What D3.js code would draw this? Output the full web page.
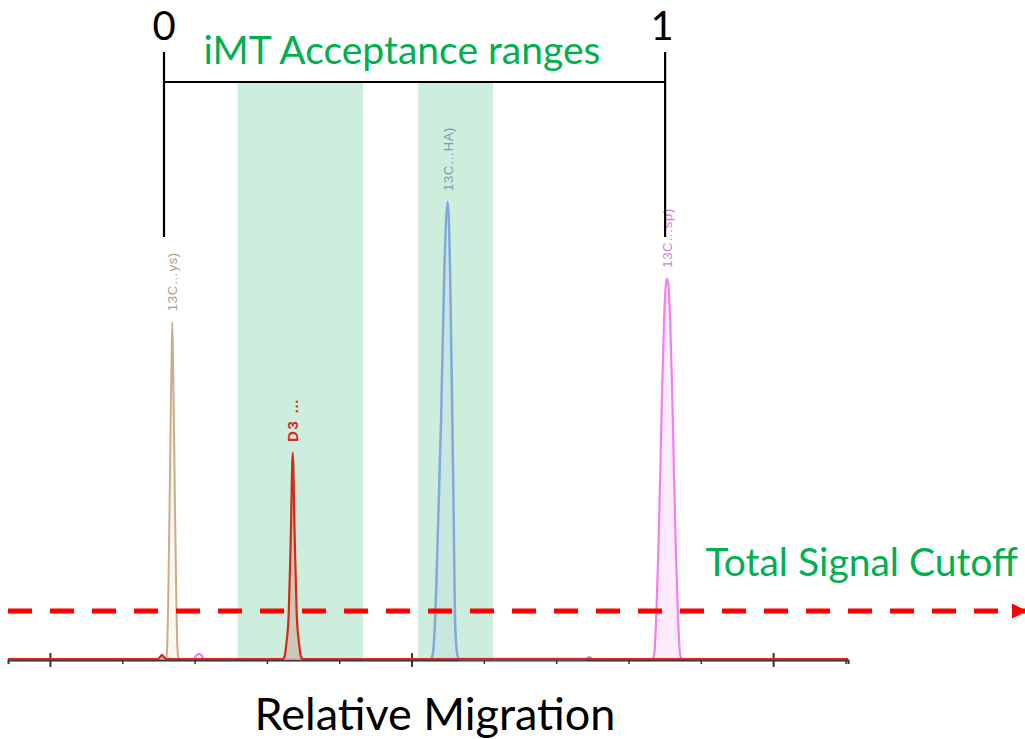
<!DOCTYPE html>
<html>
<head>
<meta charset="utf-8">
<script src="https://cdn.jsdelivr.net/npm/d3@7"></script>
<style>
  body { margin: 0; background: #fff; }
  svg { display: block; }
</style>
</head>
<body>
<div id="chart"></div>
<script>
// peak traces, x = migration time, y = signal (% of tallest peak)
const tanX  = [2.3189, 2.3217, 2.3245, 2.3267, 2.3314, 2.3355, 2.3383, 2.3411, 2.3452, 2.3499, 2.3521, 2.3549, 2.3577];
const tanY  = [0, 0.4, 3.3, 10.9, 37.2, 61.3, 73.7, 61.3, 37.2, 10.9, 3.3, 0.4, 0];

const redX  = [1.884, 2.2987, 2.3043, 2.3098, 2.3153, 2.3209,
               2.6437, 2.6493, 2.6534, 2.6603, 2.6659, 2.6714, 2.6769, 2.6825, 2.6894, 2.6935, 2.6991, 4.207];
const redY  = [0, 0, 0.4, 0.9, 0.4, 0,
               0, 0.7, 3.1, 9.8, 26.3, 45.1, 26.3, 9.8, 3.1, 0.7, 0, 0];

const blueX = [3.0531, 3.0586, 3.0650, 3.0738, 3.0816, 3.0907, 3.1001, 3.1065, 3.1128, 3.1167, 3.1203, 3.1267, 3.1319,
               3.4827, 3.491, 3.4993];
const blueY = [0, 0.9, 8.5, 30.6, 52.3, 85.1, 100, 85.1, 52.3, 30.6, 8.5, 0.9, 0,
               0, 0.4, 0];

const pinkX = [2.3984, 2.4053, 2.4122, 2.4191, 2.426,
               3.6653, 3.6708, 3.6764, 3.6819, 3.6874, 3.6930, 3.6985, 3.7027, 3.7068,
               3.7109, 3.7151, 3.7206, 3.7262, 3.7317, 3.7372, 3.7428, 3.7483];
const pinkY = [0, 0.8, 1.1, 0.8, 0,
               0, 0.9, 8.8, 21.9, 39.4, 59.1, 74.4, 81.4, 83.2,
               81.4, 74.4, 59.1, 39.4, 21.9, 8.8, 0.9, 0];

const peakNames = ["13C…ys)", "D3 …", "13C…HA)", "13C…sp)"];

// iMT acceptance windows and the 0..1 relative migration bracket
const bandStart = [2.5187, 3.0180];
const bandEnd   = [2.8658, 3.2255];
const bracketX  = [2.3154, 3.7012];
const bracketLabels = ["0", "1"];

const majorTicks = [2, 3, 4];
const minorTicks = [2.2, 2.4, 2.6, 2.8, 3.2, 3.4, 3.6, 3.8, 4.2];
const cutoff = 10.5;

const W = 1025, H = 739;
const svg = d3.select("#chart").append("svg")
  .attr("width", W).attr("height", H);

const x = d3.scaleLinear().domain([1.884, 4.207]).range([8, 848]);
const y = d3.scaleLinear().domain([0, 100]).range([659, 202]);

// acceptance bands
svg.append("g").selectAll("rect")
  .data(bandStart)
  .join("rect")
  .attr("x", d => x(d))
  .attr("width", (d, i) => x(bandEnd[i]) - x(d))
  .attr("y", 83)
  .attr("height", y(0) - 83)
  .attr("fill", "#cdeedc");

// axis: minor ticks below, major ticks crossing the line
let axMinor = svg.append("g")
  .attr("transform", "translate(0," + (y(0) + 1) + ")")
  .call(d3.axisBottom(x).tickValues(minorTicks).tickSize(4).tickFormat(""));
axMinor.select(".domain").attr("stroke", "#333").attr("stroke-width", 2);
axMinor.selectAll(".tick line").attr("stroke", "#333").attr("stroke-width", 1.5);

let axMajor = svg.append("g")
  .attr("transform", "translate(0," + (y(0) - 6) + ")")
  .call(d3.axisBottom(x).tickValues(majorTicks).tickSize(14).tickFormat("").tickSizeOuter(0));
axMajor.select(".domain").remove();
axMajor.selectAll(".tick line").attr("stroke", "#333").attr("stroke-width", 2);

// traces
const series = [
  {xs: tanX,  ys: tanY,  stroke: "#c9ad86", fill: "rgba(240,230,215,0.3)",  w: 2},
  {xs: pinkX, ys: pinkY, stroke: "#f27ef0", fill: "rgba(252,225,250,0.7)",  w: 2.2},
  {xs: blueX, ys: blueY, stroke: "#82a8dc", fill: "rgba(190,215,230,0.3)",  w: 2.5},
  {xs: redX,  ys: redY,  stroke: "#d9261c", fill: "rgba(205,175,150,0.6)",  w: 2.2}
];
const labelColors = ["#b39a74", "#d9261c", "#7f9ab5", "#d77ad8"];

const area = d3.area().x(d => x(d[0])).y0(y(0)).y1(d => y(d[1])).curve(d3.curveMonotoneX);
const line = d3.line().x(d => x(d[0])).y(d => y(d[1])).curve(d3.curveMonotoneX);

series.forEach(function(s) {
  let pts = s.xs.map((v, i) => [v, s.ys[i]]);
  svg.append("path").datum(pts).attr("d", area).attr("fill", s.fill);
  svg.append("path").datum(pts)
    .attr("d", line)
    .attr("fill", "none")
    .attr("stroke", s.stroke)
    .attr("stroke-width", s.w)
    .attr("stroke-linejoin", "round");
});

// peak labels, rotated, above each apex
const apexSeries = [series[0], series[3], series[2], series[1]];
apexSeries.forEach(function(s, i) {
  let k = d3.maxIndex(s.ys);
  let px = x(s.xs[k]), py = y(s.ys[k]) - 11;
  svg.append("text")
    .attr("transform", "translate(" + (px + 5) + "," + py + ") rotate(-90)")
    .attr("font-family", "Liberation Sans, Arial, sans-serif")
    .attr("font-size", i == 1 ? 15 : 13)
    .attr("font-weight", i == 1 ? "bold" : "normal")
    .attr("letter-spacing", i == 1 ? 1.5 : 0.7)
    .attr("fill", labelColors[i])
    .text(peakNames[i]);
});

// signal cutoff
svg.append("defs").append("marker")
  .attr("id", "arr")
  .attr("viewBox", "0 0 10 10")
  .attr("refX", 10).attr("refY", 5)
  .attr("markerWidth", 3).attr("markerHeight", 3)
  .attr("orient", "auto")
  .append("path").attr("d", "M0,0L10,5L0,10z").attr("fill", "#ff0000");

svg.append("line")
  .attr("x1", 8).attr("x2", 1027)
  .attr("y1", y(cutoff)).attr("y2", y(cutoff))
  .attr("stroke", "#ff0000")
  .attr("stroke-width", 5)
  .attr("stroke-dasharray", "24 18")
  .attr("marker-end", "url(#arr)");

svg.append("text")
  .attr("x", 1018).attr("y", 576)
  .attr("text-anchor", "end")
  .attr("font-family", "Lato, sans-serif")
  .attr("font-size", 39)
  .attr("fill", "#00b050")
  .text("Total Signal Cutoff");

// bracket for relative migration 0..1
const bracket = svg.append("g").attr("stroke", "#000").attr("stroke-width", 2.2);
bracket.append("line")
  .attr("x1", x(bracketX[0])).attr("x2", x(bracketX[1]))
  .attr("y1", 82).attr("y2", 82);
bracketX.forEach(function(v) {
  bracket.append("line")
    .attr("x1", x(v)).attr("x2", x(v))
    .attr("y1", 52).attr("y2", 237);
});
bracketX.forEach(function(v, i) {
  svg.append("text")
    .attr("x", x(v) - (i == 1 ? 3 : 0)).attr("y", 40)
    .attr("text-anchor", "middle")
    .attr("font-family", "Lato, sans-serif")
    .attr("font-size", 40)
    .attr("fill", "#000")
    .text(bracketLabels[i]);
});

svg.append("text")
  .attr("x", 402).attr("y", 64)
  .attr("text-anchor", "middle")
  .attr("font-family", "Lato, sans-serif")
  .attr("font-size", 39)
  .attr("fill", "#00b050")
  .text("iMT Acceptance ranges");

svg.append("text")
  .attr("x", 435).attr("y", 730)
  .attr("text-anchor", "middle")
  .attr("font-family", "Lato, sans-serif")
  .attr("font-size", 45)
  .attr("fill", "#000")
  .text("Relative Migration");
</script>
</body>
</html>
